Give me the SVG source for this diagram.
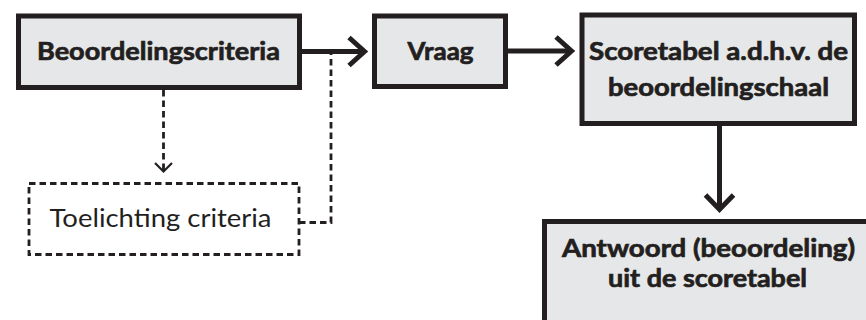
<svg xmlns="http://www.w3.org/2000/svg" width="866" height="320" viewBox="0 0 866 320">
<defs>
<style>
.box{fill:#e6e7e8;stroke:#231f20;stroke-width:5}
.dbox{fill:#ffffff;stroke:#231f20;stroke-width:2.8;stroke-dasharray:6.5 4}
.t{font-family:Lato,"Open Sans","Liberation Sans",sans-serif;font-weight:bold;font-size:25px;fill:#231f20;stroke:#231f20;stroke-width:0.7;text-anchor:middle}
.tr{font-family:Lato,"Open Sans","Liberation Sans",sans-serif;font-size:25px;fill:#231f20;text-anchor:middle}
.line{fill:none;stroke:#231f20;stroke-width:5;stroke-linejoin:miter}
.dline{fill:none;stroke:#231f20;stroke-width:2.8;stroke-dasharray:6.5 4}
.thin{fill:none;stroke:#231f20;stroke-width:2.2}
</style>
</defs>
<rect width="866" height="320" fill="#ffffff"/>
<g id="connectors">
<line class="line" x1="302" y1="51.5" x2="364" y2="51.5"/>
<polyline class="line" points="349,37.5 364.5,51.5 349,65.5"/>
<line class="line" x1="508" y1="51" x2="571" y2="51"/>
<polyline class="line" points="556,37 571.5,51 556,65"/>
<line class="line" x1="719.5" y1="126" x2="719.5" y2="209"/>
<polyline class="line" points="705.5,195 719.5,209.5 733.5,195"/>
<line class="dline" x1="163.5" y1="90" x2="163.5" y2="171"/>
<polyline class="thin" points="155,163 163.5,171.5 172,163"/>
<polyline class="dline" points="299,222.5 331,222.5 331,54"/>
</g>
<g id="beoordelingscriteria">
<rect class="box" x="18.5" y="16" width="281" height="71.5"/>
<text class="t" x="158.5" y="60" textLength="243" lengthAdjust="spacingAndGlyphs">Beoordelingscriteria</text>
</g>
<g id="vraag">
<rect class="box" x="374.5" y="16" width="131" height="70.5"/>
<text class="t" x="440.5" y="60" textLength="66" lengthAdjust="spacingAndGlyphs">Vraag</text>
</g>
<g id="scoretabel">
<rect class="box" x="582" y="15" width="272.5" height="108.5"/>
<text class="t" x="718.5" y="60" textLength="259" lengthAdjust="spacingAndGlyphs">Scoretabel a.d.h.v. de</text>
<text class="t" x="718.5" y="96" textLength="221" lengthAdjust="spacingAndGlyphs">beoordelingschaal</text>
</g>
<g id="antwoord">
<rect class="box" x="544.5" y="221.5" width="400" height="200"/>
<text class="t" x="708.5" y="256.5" textLength="293" lengthAdjust="spacingAndGlyphs">Antwoord (beoordeling)</text>
<text class="t" x="707.5" y="287" textLength="199" lengthAdjust="spacingAndGlyphs">uit de scoretabel</text>
</g>
<g id="toelichting">
<rect class="dbox" x="29" y="183.5" width="270" height="71"/>
<text class="tr" x="160.5" y="227" textLength="222" lengthAdjust="spacingAndGlyphs">Toelichting criteria</text>
</g>
</svg>
